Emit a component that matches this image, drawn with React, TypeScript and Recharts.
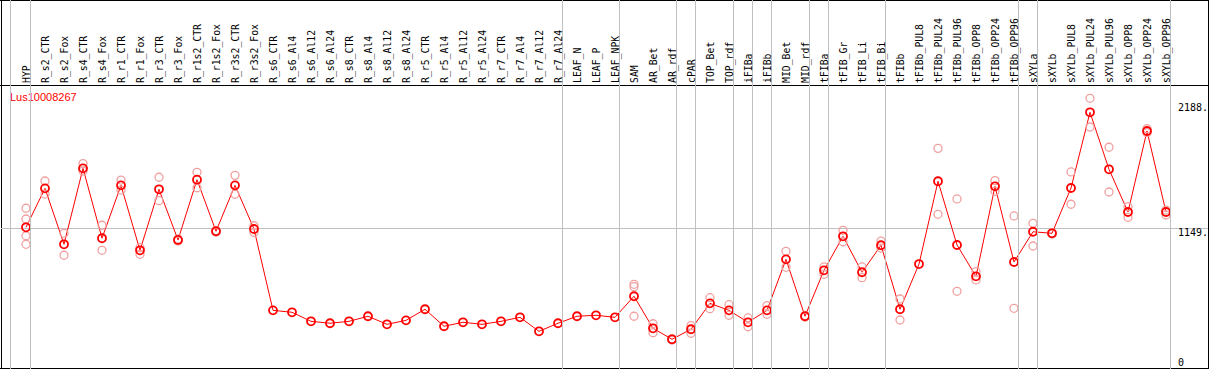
import { LineChart, Line, XAxis, YAxis, ReferenceLine } from 'recharts';

const categories = [
  'HYP', 'R_s2_CTR', 'R_s2_Fox', 'R_s4_CTR', 'R_s4_Fox', 'R_r1_CTR', 'R_r1_Fox', 'R_r3_CTR', 'R_r3_Fox',
  'R_r1s2_CTR', 'R_r1s2_Fox', 'R_r3s2_CTR', 'R_r3s2_Fox', 'R_s6_CTR', 'R_s6_Al4', 'R_s6_Al12', 'R_s6_Al24',
  'R_s8_CTR', 'R_s8_Al4', 'R_s8_Al12', 'R_s8_Al24', 'R_r5_CTR', 'R_r5_Al4', 'R_r5_Al12', 'R_r5_Al24',
  'R_r7_CTR', 'R_r7_Al4', 'R_r7_Al12', 'R_r7_Al24', 'LEAF_N', 'LEAF_P', 'LEAF_NPK', 'SAM', 'AR_Bet', 'AR_rdf',
  'cPAR', 'TOP_Bet', 'TOP_rdf', 'iFIBa', 'iFIBb', 'MID_Bet', 'MID_rdf', 'tFIBa', 'tFIB_Gr', 'tFIB_Li', 'tFIB_Bi',
  'tFIBb', 'tFIBb_PUL8', 'tFIBb_PUL24', 'tFIBb_PUL96', 'tFIBb_OPP8', 'tFIBb_OPP24', 'tFIBb_OPP96',
  'sXYLa', 'sXYLb', 'sXYLb_PUL8', 'sXYLb_PUL24', 'sXYLb_PUL96', 'sXYLb_OPP8', 'sXYLb_OPP24', 'sXYLb_OPP96',
];

// mean expression per sample
const means = [
  1159, 1482, 1018, 1648, 1068, 1507, 968, 1474, 1054,
  1554, 1126, 1507, 1145, 470, 454, 379, 363,
  379, 421, 354, 387, 479, 338, 371, 354,
  379, 412, 296, 363, 421, 429, 412, 587, 321, 230,
  313, 528, 470, 371, 470, 893, 421, 802, 1084, 786, 1010,
  479, 854, 1541, 1012, 752, 1499, 871,
  1122, 1109, 1485, 2113, 1640, 1286, 1958, 1286,
];

// individual replicates (pale circles)
const replicates: number[][] = [
  [1317, 1228, 1089, 1018], [1543, 1435], [1109, 927], [1687, 1626], [1176, 968], [1551, 1468], [990, 935], [1574, 1380], [1045, 1062],
  [1615, 1487], [1120, 1132], [1590, 1433], [1172, 1117], [], [], [], [],
  [], [], [], [], [], [], [], [],
  [], [], [], [], [], [], [], [686, 666, 421], [359, 285], [225, 235],
  [343, 280], [575, 484], [517, 429], [407, 334], [509, 437], [960, 827], [415, 427], [830, 769], [1134, 1039], [830, 741], [1045, 987],
  [564, 390], [], [1814, 1267], [1394, 628], [791, 722], [1546, 1458], [1253, 487],
  [1192, 1004], [1104, 1114], [1618, 1350], [2229, 1991], [1823, 1452], [1330, 1242], [1977, 1944], [1302, 1261],
];

// group separators drawn to the right of these sample indices
const separatorsAfter = [0, 28, 31, 34, 35, 37, 38, 39, 41, 42, 45, 52, 53, 60];
const yTicks = [0, 1149, 2188];
const geneId = 'Lus10008267';

const repKeys = ['r0', 'r1', 'r2', 'r3'];

const data = categories.map((name, i) => {
  const row: Record<string, string | number> = { name, mean: means[i] };
  replicates[i].forEach((v, j) => {
    row['r' + j] = v;
  });
  return row;
});

const GRAY = '#c0c0c0';

function SampleTick(props: any) {
  const { x, payload } = props;
  const i = payload.index;
  return (
    <g>
      {i === 0 && <line x1={x - 15.5} x2={x - 15.5} y1={0} y2={369} stroke={GRAY} />}
      {separatorsAfter.includes(i) && <line x1={x + 4.5} x2={x + 4.5} y1={0} y2={369} stroke={GRAY} />}
      <text
        transform={`translate(${x + 3.5},83) rotate(-90)`}
        fontFamily="DejaVu Sans Mono"
        fontSize={9.8}
        fill="#000"
      >
        {payload.value}
      </text>
    </g>
  );
}

function ValueTick(props: any) {
  const { y, payload } = props;
  return (
    <text x={1178} y={Math.min(y + 7.5, 366)} fontFamily="DejaVu Sans Mono" fontSize={10} fill="#000">
      {payload.value === 0 ? '0' : payload.value + '.'}
    </text>
  );
}

export default function App() {
  return (
    <div style={{ position: 'absolute', left: 0, top: 0, width: 1209, height: 370, background: '#fff' }}>
      <LineChart width={1209} height={370} data={data} margin={{ top: 0, right: 1, bottom: 3, left: 1 }}>
        <XAxis
          dataKey="name"
          orientation="top"
          height={90}
          interval={0}
          axisLine={false}
          tickLine={false}
          padding={{ left: 25, right: 42 }}
          tick={<SampleTick />}
        />
        <YAxis
          orientation="right"
          mirror
          domain={[0, 2298]}
          ticks={yTicks}
          interval={0}
          axisLine={false}
          tickLine={false}
          tick={<ValueTick />}
        />
        <ReferenceLine y={1149} stroke={GRAY} />
        {repKeys.map((k) => (
          <Line
            key={k}
            dataKey={k}
            stroke="none"
            isAnimationActive={false}
            dot={{ r: 4, stroke: '#f0a0a0', strokeWidth: 1.3, fill: 'none' }}
            activeDot={false}
          />
        ))}
        <Line
          dataKey="mean"
          stroke="#ff0000"
          strokeWidth={1}
          isAnimationActive={false}
          dot={{ r: 4, stroke: '#ff0000', strokeWidth: 1.8, fill: 'none' }}
          activeDot={false}
        />
        <text x={10} y={101} fontFamily="Liberation Sans" fontSize={11} fill="#ff0000">
          {geneId}
        </text>
        <line x1={0} x2={1209} y1={0.5} y2={0.5} stroke="#000" />
        <line x1={0} x2={1209} y1={85.5} y2={85.5} stroke="#000" />
        <line x1={0} x2={1209} y1={368.5} y2={368.5} stroke="#000" />
        <line x1={1.5} x2={1.5} y1={0} y2={369} stroke="#000" />
        <line x1={1208.5} x2={1208.5} y1={0} y2={369} stroke="#000" />
      </LineChart>
    </div>
  );
}
